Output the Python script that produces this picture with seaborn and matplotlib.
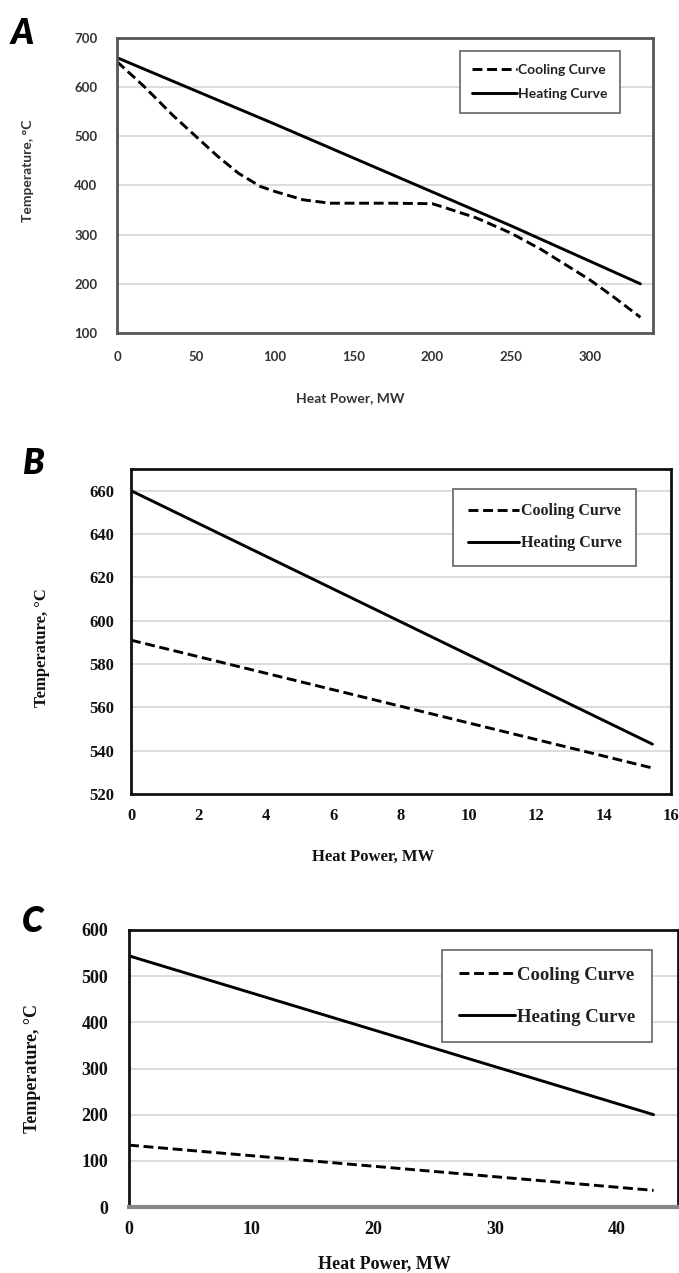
import numpy as np
import pandas as pd
import matplotlib
matplotlib.use("Agg")
import matplotlib.pyplot as plt
import seaborn as sns

sns.set_theme(style="white")

# ---------------- data ----------------
# Panel A
a_cool_x = [0, 17, 36, 50, 64, 77, 91, 100, 118, 135, 150, 173, 200, 209, 228, 250, 269, 283, 300, 316, 332]
a_cool_y = [652, 602, 541, 500, 459, 425, 398, 388, 371, 364, 364, 364, 363, 354, 334, 303, 270, 242, 208, 171, 132]
a_heat_x = [0, 100, 200, 250, 332]
a_heat_y = [660, 525, 387, 318, 200]
# Panel B
b_cool_x = [0, 15.45]
b_cool_y = [591, 532]
b_heat_x = [0, 15.45]
b_heat_y = [660, 543]
# Panel C
c_cool_x = [0, 43]
c_cool_y = [134, 36]
c_heat_x = [0, 43]
c_heat_y = [544, 200]

a_xticks = [0, 50, 100, 150, 200, 250, 300]
a_yticks = [100, 200, 300, 400, 500, 600, 700]
b_xticks = [0, 2, 4, 6, 8, 10, 12, 14, 16]
b_yticks = [520, 540, 560, 580, 600, 620, 640, 660]
c_xticks = [0, 10, 20, 30, 40]
c_yticks = [0, 100, 200, 300, 400, 500, 600]

W, H = 679, 1273
fig = plt.figure(figsize=(W / 100, H / 100), dpi=100)
fig.patch.set_facecolor("white")


def add_ax(left, right, top, bottom):
    return fig.add_axes([left / W, 1 - bottom / H, (right - left) / W, (bottom - top) / H])


def style_panel(ax, xt, yt, xlim, ylim, font, fs, weight, tcolor, spine_color, pad_x, pad_y):
    ax.set_xlim(*xlim)
    ax.set_ylim(*ylim)
    ax.set_xticks(xt)
    ax.set_yticks(yt)
    ax.set_xticklabels([str(v) for v in xt], fontfamily=font, fontsize=fs, fontweight=weight, color=tcolor)
    ax.set_yticklabels([str(v) for v in yt], fontfamily=font, fontsize=fs, fontweight=weight, color=tcolor)
    ax.tick_params(axis="x", length=0, pad=pad_x)
    ax.tick_params(axis="y", length=0, pad=pad_y)
    ax.grid(False)
    for y in yt:
        if ylim[0] < y < ylim[1]:
            ax.axhline(y, color="#d9d9d9", lw=1.3, zorder=0)
    for s in ax.spines.values():
        s.set_visible(True)
        s.set_color(spine_color)
        s.set_linewidth(2.0)


def draw_lines(ax, cx, cy, hx, hy, lw):
    cool = pd.DataFrame({"x": cx, "y": cy})
    heat = pd.DataFrame({"x": hx, "y": hy})
    sns.lineplot(data=cool, x="x", y="y", ax=ax, color="black", lw=lw,
                 linestyle=(0, (3.4, 1.6)), label="Cooling Curve", sort=False)
    sns.lineplot(data=heat, x="x", y="y", ax=ax, color="black", lw=lw,
                 label="Heating Curve", sort=False)


def place_legend(ax, x0, y0, x1, y1, font, fs, weight, hl, ls):
    leg = ax.legend(loc="center", bbox_to_anchor=(x0, y0, x1 - x0, y1 - y0),
                    frameon=True, fancybox=False, framealpha=1,
                    edgecolor="#6f6f6f", handlelength=hl, handletextpad=0.1,
                    labelspacing=ls, borderpad=0.9,
                    prop={"family": font, "size": fs, "weight": weight})
    leg.get_frame().set_linewidth(1.3)
    for t in leg.get_texts():
        t.set_color("#222222")
    return leg


# ---------------- Panel A ----------------
axA = add_ax(117, 653, 38, 333)
draw_lines(axA, a_cool_x, a_cool_y, a_heat_x, a_heat_y, 2.1)
style_panel(axA, a_xticks, a_yticks, (0, 340), (100, 700), "Lato", 9.5, "bold", "#333333", "#555555", 13, 14)
axA.set_xlabel("Heat Power, MW", fontfamily="Lato", fontsize=10, fontweight="bold", color="#333333")
axA.set_ylabel("Temperature, °C", fontfamily="Lato", fontsize=10, fontweight="bold", color="#333333")
axA.xaxis.set_label_coords(0.435, -0.20)
axA.yaxis.set_label_coords(-0.155, 0.55)
place_legend(axA, 0.618, 0.742, 0.96, 0.959, "Lato", 10, "bold", 3.2, 0.9)
fig.text(11 / W, 1 - 33 / H, "A", fontfamily="Lato", fontsize=25, fontweight="heavy",
         fontstyle="italic", va="center", ha="left", color="black")

# ---------------- Panel B ----------------
axB = add_ax(131, 671, 469, 794)
draw_lines(axB, b_cool_x, b_cool_y, b_heat_x, b_heat_y, 2.1)
style_panel(axB, b_xticks, b_yticks, (0, 16), (520, 670), "Liberation Serif", 12, "bold", "#111111", "#111111", 10, 12)
axB.set_xlabel("Heat Power, MW", fontfamily="Liberation Serif", fontsize=12, fontweight="bold", color="#111111")
axB.set_ylabel("Temperature, °C", fontfamily="Liberation Serif", fontsize=12, fontweight="bold", color="#111111")
axB.xaxis.set_label_coords(0.448, -0.17)
axB.yaxis.set_label_coords(-0.15, 0.45)
place_legend(axB, 0.601, 0.71, 0.931, 0.931, "Liberation Serif", 11.5, "bold", 3.2, 1.0)
fig.text(22 / W, 1 - 463 / H, "B", fontfamily="Lato", fontsize=25, fontweight="heavy",
         fontstyle="italic", va="center", ha="left", color="black")

# ---------------- Panel C ----------------
axC = add_ax(129, 678, 930, 1207)
draw_lines(axC, c_cool_x, c_cool_y, c_heat_x, c_heat_y, 2.1)
style_panel(axC, c_xticks, c_yticks, (0, 45), (0, 600), "Liberation Serif", 13, "bold", "#111111", "#111111", 10, 15)
axC.spines["bottom"].set_color("#888888")
axC.spines["bottom"].set_linewidth(3)
axC.set_xlabel("Heat Power, MW", fontfamily="Liberation Serif", fontsize=13, fontweight="bold", color="#111111")
axC.set_ylabel("Temperature, °C", fontfamily="Liberation Serif", fontsize=13, fontweight="bold", color="#111111")
axC.xaxis.set_label_coords(0.465, -0.175)
axC.yaxis.set_label_coords(-0.16, 0.5)
place_legend(axC, 0.556, 0.594, 0.968, 0.928, "Liberation Serif", 13.5, "bold", 3.0, 1.3)
fig.text(22 / W, 1 - 922 / H, "C", fontfamily="Lato", fontsize=25, fontweight="heavy",
         fontstyle="italic", va="center", ha="left", color="black")

fig.savefig("out.png", dpi=100, facecolor="white")
